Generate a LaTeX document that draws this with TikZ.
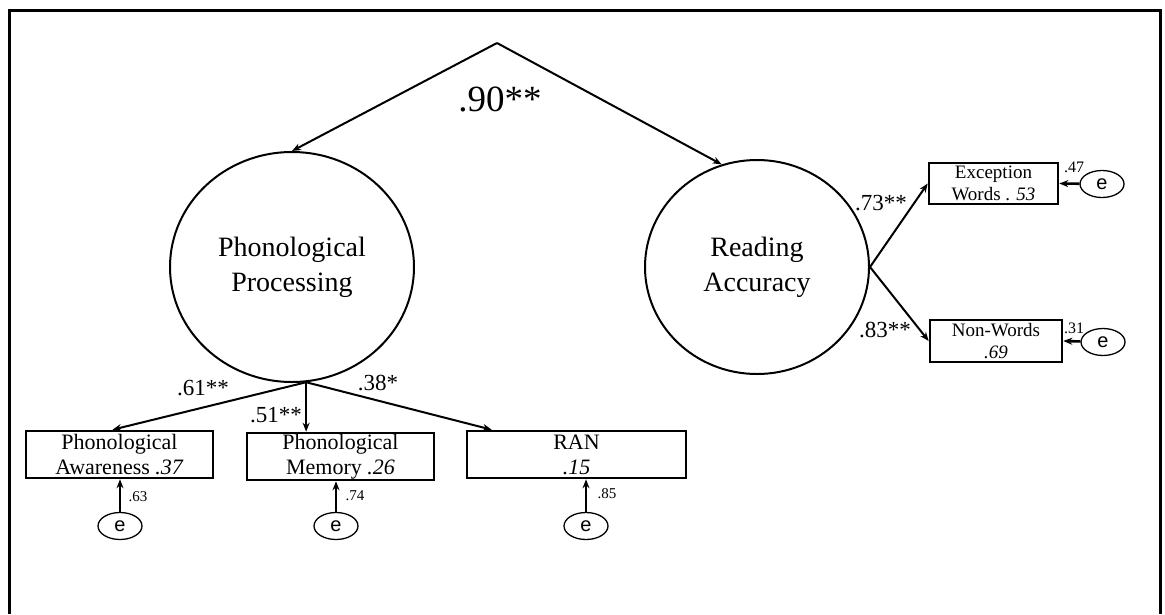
\documentclass[tikz,border=0pt]{standalone}
\usepackage{fontspec}
\setmainfont{Liberation Serif}
\newfontfamily\sansf{Liberation Sans}
\usetikzlibrary{shapes.geometric,arrows.meta,calc}
\begin{document}
\begin{tikzpicture}[x=1pt,y=-1pt,
  latent/.style={ellipse,draw,line width=2pt,inner sep=0pt,align=center,font=\fontsize{28}{35}\selectfont},
  obsbox/.style={rectangle,draw,line width=2.6pt,inner sep=0pt,align=center,font=\fontsize{22}{25}\selectfont},
  smallbox/.style={obsbox,font=\fontsize{19}{22}\selectfont},
  err/.style={ellipse,draw,line width=1.3pt,inner sep=0pt,minimum width=44pt,minimum height=27pt,font=\sansf\fontsize{20}{20}\selectfont},
  pathar/.style={line width=2pt,-{Stealth[length=9pt,width=7pt]}},
  errpath/.style={line width=2.6pt,-{Stealth[length=9pt,width=7pt]}},
  coef/.style={anchor=base,inner sep=0pt,font=\fontsize{23}{23}\selectfont},
  ecoef/.style={anchor=base,inner sep=0pt,font=\fontsize{15}{15}\selectfont},
  rcoef/.style={anchor=base,inner sep=0pt,font=\fontsize{16}{16}\selectfont}
]
\useasboundingbox (0,0) rectangle (1165,614);
% frame
\draw[line width=3pt] (9.5,614) -- (9.5,10) -- (1160.5,10) -- (1160.5,614);

% latent variables
\node[latent,minimum width=244pt,minimum height=230pt] (PP) at (292,267) {Phonological\\Processing};
\node[latent,minimum width=224pt,minimum height=214pt] (RA) at (757,267) {Reading\\Accuracy};

% observed boxes
\node[obsbox,minimum width=187pt,minimum height=47pt] (PA) at (119.5,454.5) {Phonological\\Awareness \textit{.37}};
\node[obsbox,minimum width=187pt,minimum height=47pt] (PM) at (340.5,456.5) {Phonological\\Memory \textit{.26}};
\node[obsbox,minimum width=219pt,minimum height=47pt] (RAN) at (576.5,454.5) {RAN\\\textit{.15}};
\node[smallbox,minimum width=129pt,minimum height=41pt] (EW) at (993.5,183.5) {Exception\\Words . \textit{53}};
\node[smallbox,minimum width=132pt,minimum height=42pt] (NW) at (996,341) {Non-Words\\\textit{.69}};

% error terms
\node[err] (PAe) at (120,526) {e};
\node[err] (PMe) at (336,526) {e};
\node[err] (RANe) at (586,526) {e};
\node[err] (EWe) at (1102,184) {e};
\node[err] (NWe) at (1103,342) {e};

% correlation
\coordinate (apex) at (497,43);
\draw[pathar] (apex) -- (PP.north);
\draw[pathar] (apex) -- (RA.109);
\node[anchor=base,inner sep=0pt,font=\fontsize{37}{37}\selectfont] (r) at (500,111) {.90**};

% loadings of PP
\coordinate (src) at (PP.277);
\draw[pathar] (src) -- ($(PA.north)+(-7,0)$);
\draw[pathar] (src) -- (src |- PM.north);
\draw[pathar] (src) -- ($(RAN.north west)+(26,0)$);
\node[coef] (l61) at (203,395) {.61**};
\node[coef] (l51) at (276,422) {.51**};
\node[coef] (l38) at (378,390) {.38*};

% loadings of RA
\draw[pathar] (RA.east) -- (EW.west);
\draw[pathar] (RA.east) -- (NW.west);
\node[coef] (l73) at (881,210) {.73**};
\node[coef] (l83) at (885,337) {.83**};

% error paths
\draw[errpath] (PAe) -- (PAe |- PA.south);
\draw[errpath] (PMe) -- (PMe |- PM.south);
\draw[errpath] (RANe) -- (RANe |- RAN.south);
\draw[errpath] (EWe) -- (EW.east);
\draw[errpath] (NWe) -- (NW.east);
\node[ecoef] (e63) at (138,501) {.63};
\node[ecoef] (e74) at (355,500) {.74};
\node[ecoef] (e85) at (607,498) {.85};
\node[rcoef] (e47) at (1074,172) {.47};
\node[rcoef] (e31) at (1074,333) {.31};
\end{tikzpicture}
\end{document}
